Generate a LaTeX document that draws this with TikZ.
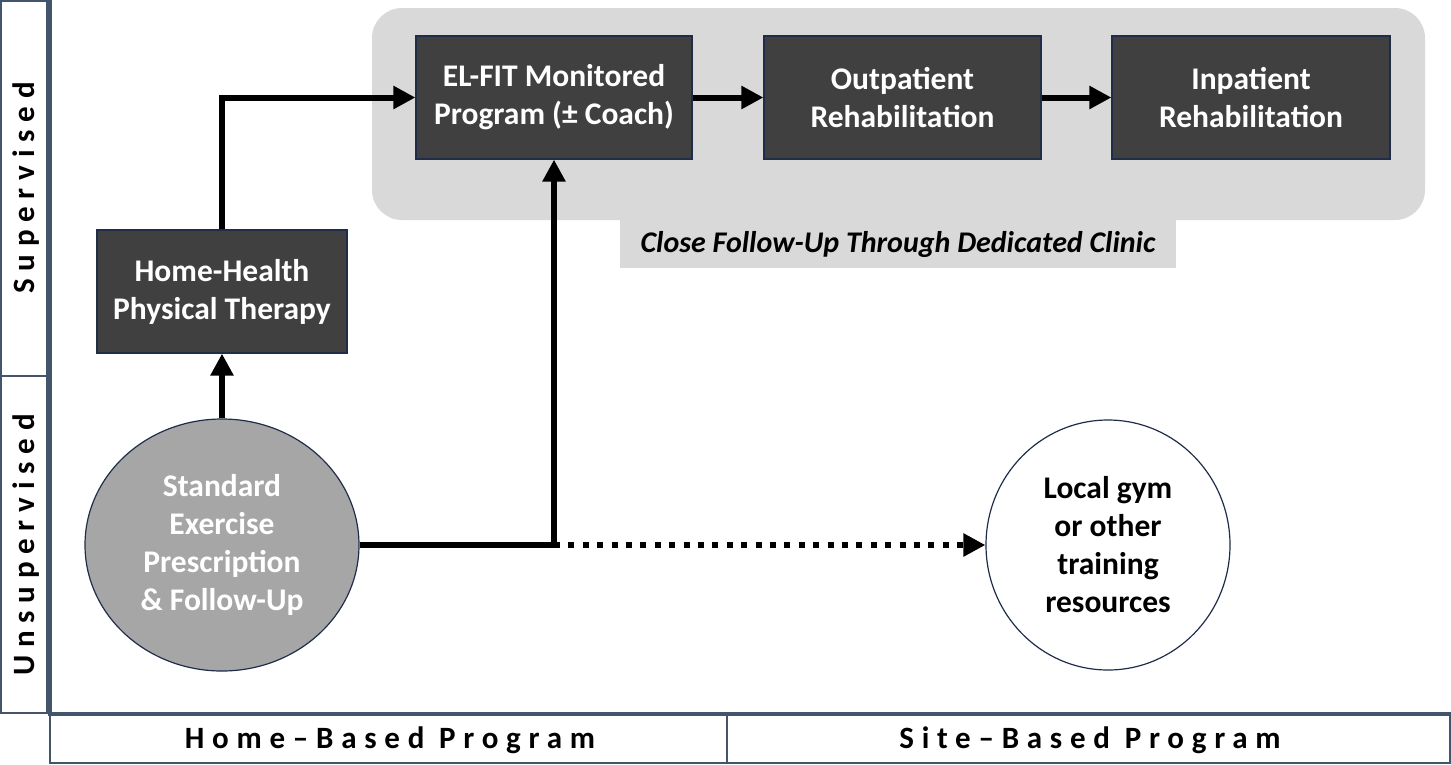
\documentclass[tikz,border=0pt]{standalone}
\usepackage{fontspec}
\setmainfont{Carlito}
\newfontfamily\spacedfont{Carlito}[LetterSpace=25]
\usetikzlibrary{shapes.geometric,arrows.meta}
\definecolor{boxfill}{HTML}{404040}
\definecolor{navy}{HTML}{1F2D4A}
\definecolor{panel}{HTML}{D9D9D9}
\definecolor{circfill}{HTML}{A6A6A6}
\definecolor{axis}{HTML}{44546A}
\tikzset{
  x=1pt, y=-1pt,
  txt/.style={font=\fontsize{31.5}{38}\selectfont\bfseries, align=center},
  darkbox/.style={txt, draw=navy, line width=1.2pt, fill=boxfill, text=white, inner sep=0pt},
  flow/.style={line width=6pt, line join=miter, -{Triangle[length=22pt,width=22pt]}},
  dots/.style={line width=6pt, dash pattern=on 6pt off 8.4pt, -{Triangle[length=22pt,width=22pt]}},
  axlabel/.style={font=\spacedfont\fontsize{31}{34}\selectfont\bfseries},
  frame/.style={draw=axis, line width=1.3pt}
}
\begin{document}
\begin{tikzpicture}
\useasboundingbox (0,0) rectangle (1451,764);
% panels
\node[draw=none, fill=panel, rounded corners=30pt, minimum width=1053pt, minimum height=212pt, inner sep=0pt] (panel) at (898.5,114) {};
\node[fill=panel, minimum width=556pt, minimum height=48pt, inner sep=0pt, font=\fontsize{30}{34}\selectfont\bfseries\itshape] (panellabel) at (898,244) {Close Follow-Up Through Dedicated Clinic};
% boxes
\node[darkbox, minimum width=276pt, minimum height=123pt] (elfit) at (554,97.5) {EL-FIT Monitored\\Program (\char"00B1{} Coach)};
\node[darkbox, minimum width=277pt, minimum height=123pt] (outp) at (902.5,97.5) {Outpatient\\Rehabilitation};
\node[darkbox, minimum width=278pt, minimum height=123pt] (inp) at (1251,97.5) {Inpatient\\Rehabilitation};
\node[darkbox, minimum width=250pt, minimum height=123pt] (hh) at (222,291.5) {Home-Health\\Physical Therapy};
\node[txt, ellipse, draw=navy, line width=1.2pt, fill=circfill, text=white, minimum width=274pt, minimum height=252pt, inner sep=0pt] (std) at (222,545) {Standard\\Exercise\\Prescription\\\& Follow-Up};
\node[txt, ellipse, draw=navy, line width=1.2pt, fill=white, text=black, minimum width=244pt, minimum height=250pt, inner sep=0pt] (gym) at (1108,545) {Local gym\\or other\\training\\resources};
% connectors
\coordinate (j) at (elfit.south |- std.east);
\draw[flow] (std.north) -- (hh.south);
\draw[flow] (hh.north) |- (elfit.west);
\draw[flow] (std.east) -- (j) -- (elfit.south);
\draw[dots] (j) -- (gym.west);
\draw[flow] (elfit.east) -- (outp.west);
\draw[flow] (outp.east) -- (inp.west);
% axes frames
\draw[frame] (1,1) rectangle (47,713);
\draw[frame] (1,376) -- (47,376);
\draw[frame] (50,714) rectangle (1450,763);
\draw[frame] (727,714) -- (727,763);
\draw[axis, line width=4pt] (50,0) -- (50,714) -- (1451,714);
\node[axlabel, rotate=90] (sup) at (26,188) {Supervised};
\node[axlabel, rotate=90] (unsup) at (26,545) {Unsupervised};
\node[axlabel] (home) at (390,740) {Home–Based Program};
\node[axlabel] (site) at (1090,740) {Site–Based Program};
\end{tikzpicture}
\end{document}
